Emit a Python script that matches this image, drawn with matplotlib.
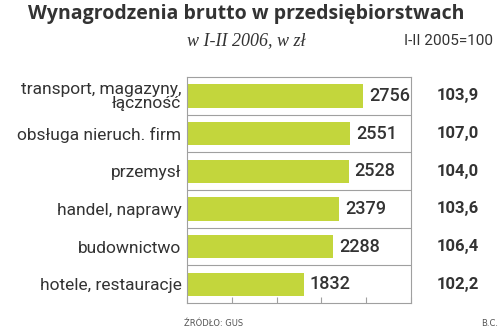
import matplotlib
matplotlib.use("Agg")
import matplotlib.pyplot as plt
import matplotlib.transforms as mtransforms

# Dane: przeciętne wynagrodzenie brutto w I-II 2006 (zł) i dynamika (I-II 2005=100)
categories = [
    "transport, magazyny,\nłączność",
    "obsługa nieruch. firm",
    "przemysł",
    "handel, naprawy",
    "budownictwo",
    "hotele, restauracje",
]
wages = [2756, 2551, 2528, 2379, 2288, 1832]
index_2005 = ["103,9", "107,0", "104,0", "103,6", "106,4", "102,2"]
x_ticks = [0, 700, 1400, 2100, 2800, 3500]

BAR = "#c3d63c"
TEXT = "#333333"
GRID = "#a0a0a0"

fig = plt.figure(figsize=(5.0, 3.35), dpi=100)
fig.patch.set_facecolor("white")
ax = fig.add_axes([0.374, 0.0955, 0.448, 0.6745])

y = list(range(len(categories)))
ax.barh(y, wages, height=0.62, color=BAR, zorder=2)
ax.set_xlim(0, 3500)
ax.set_ylim(len(categories) - 0.5, -0.5)

# row separators
for k in range(1, len(categories)):
    ax.axhline(k - 0.5, color=GRID, lw=0.8, zorder=1)

for s in ax.spines.values():
    s.set_color(GRID)
    s.set_linewidth(0.8)

ax.set_xticks(x_ticks)
ax.set_xticklabels([])
ax.tick_params(axis="x", direction="in", length=4, color=GRID, width=0.8)
ax.set_yticks(y)
ax.set_yticklabels(categories, fontsize=12.5, color=TEXT, family="Roboto",
                   linespacing=0.85)
ax.tick_params(axis="y", length=0, pad=4)

# value labels next to bars
for yi, v in zip(y, wages):
    ax.annotate(f"{v}", xy=(v, yi), xytext=(4, 0), textcoords="offset points",
                ha="left", va="center", fontsize=13, color=TEXT,
                family="Roboto", fontweight="medium")

# index column
trans = mtransforms.blended_transform_factory(fig.transFigure, ax.transData)
for yi, t in zip(y, index_2005):
    ax.text(0.916, yi, t, transform=trans, ha="center", va="center",
            fontsize=12, color=TEXT, family="Roboto", fontweight="bold",
            clip_on=False)

fig.text(0.493, 0.958, "Wynagrodzenia brutto w przedsiębiorstwach",
         ha="center", va="center", fontsize=14, fontweight="bold",
         color=TEXT, family="Open Sans")
fig.text(0.374, 0.878, "w I-II 2006, w zł", ha="left", va="center",
         fontsize=13, style="italic", color=TEXT, family="Liberation Serif")
fig.text(0.986, 0.878, "I-II 2005=100", ha="right", va="center",
         fontsize=11, color=TEXT, family="Roboto")
fig.text(0.368, 0.035, "ŹRÓDŁO: GUS", ha="left", va="center",
         fontsize=6, color="#555555", family="DejaVu Sans")
fig.text(0.996, 0.035, "B.C.", ha="right", va="center",
         fontsize=6, color="#555555", family="DejaVu Sans")

fig.savefig("out.png", dpi=100, facecolor="white")
